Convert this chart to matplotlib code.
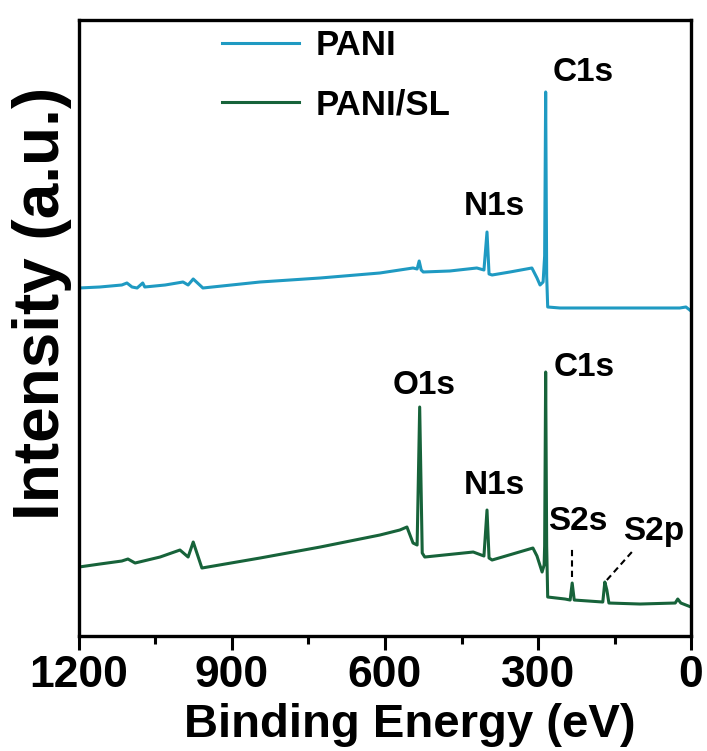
import matplotlib.pyplot as plt

plt.rcParams['font.family'] = ['Liberation Sans', 'DejaVu Sans']
plt.rcParams['font.weight'] = 'bold'
plt.rcParams['axes.labelweight'] = 'bold'

# binding energy (eV) and intensity (a.u.)
pani_e = [1200, 1159, 1116, 1106, 1096, 1086, 1075, 1071, 1031, 996, 986, 976, 957,
          845, 727, 610, 545, 537, 533, 529, 525, 473, 420, 406, 400, 396, 390,
          355, 312, 302, 296, 290, 287, 285, 283, 281, 257, 139, 22, 10, 0]
pani_i = [348, 349, 351, 353, 349, 348, 353, 349, 351, 354, 351, 357, 348,
          354, 358, 363, 368, 367, 375, 366, 364, 365, 368, 366, 404, 362, 361,
          364, 368, 358, 351, 354, 380, 544, 360, 329, 328, 328, 328, 329, 325]

sl_e = [1200, 1159, 1116, 1104, 1090, 1041, 1002, 986, 976, 959, 845, 727, 610,
        571, 557, 545, 537, 532, 527, 522, 427, 406, 400, 396, 390, 310, 302,
        292, 288, 287, 285, 283, 281, 247, 237, 233, 229, 173, 169, 165, 161,
        100, 31, 26, 20, 0]
sl_i = [69, 72, 75, 77, 73, 79, 86, 79, 94, 68, 78, 89, 101,
        106, 109, 93, 91, 229, 83, 79, 84, 80, 126, 78, 76, 88, 80,
        64, 71, 90, 264, 90, 39, 37, 36, 53, 36, 34, 54, 46, 33,
        32, 33, 37, 33, 29]

labels = ['PANI', 'PANI/SL']
colors = ['#1f9ac2', '#17633a']

fig = plt.figure(figsize=(7.07, 7.51), dpi=100)
ax = fig.add_axes([0.1117, 0.1531, 0.8657, 0.8203])

ax.plot(pani_e, pani_i, color=colors[0], lw=2.2, label=labels[0])
ax.plot(sl_e, sl_i, color=colors[1], lw=2.2, label=labels[1])

# peak labels
fs = 24
ax.text(212, 563, 'C1s', fontsize=fs, ha='center', va='center')
ax.text(386, 429, 'N1s', fontsize=fs, ha='center', va='center')
ax.text(524, 251, 'O1s', fontsize=fs, ha='center', va='center')
ax.text(210, 269, 'C1s', fontsize=fs, ha='center', va='center')
ax.text(386, 151, 'N1s', fontsize=fs, ha='center', va='center')
ax.text(222, 115, 'S2s', fontsize=fs, ha='center', va='center')
ax.text(73, 105, 'S2p', fontsize=fs, ha='center', va='center')

# dashed pointers for the sulfur peaks
ax.plot([233, 233], [59, 88], 'k--', lw=1.5, dashes=(3, 2))
ax.plot([165, 116], [56, 84], 'k--', lw=1.5, dashes=(3, 2))

ax.set_xlim(1200, 0)
ax.set_ylim(0, 616)
ax.set_xticks([1200, 900, 600, 300, 0])
ax.set_xticks([1050, 750, 450, 150], minor=True)
ax.set_yticks([])
ax.tick_params(axis='x', which='major', direction='out', length=10, width=2.2,
               labelsize=32, pad=4)
ax.tick_params(axis='x', which='minor', direction='out', length=6, width=2.2)
for s in ax.spines.values():
    s.set_linewidth(2.4)

ax.set_xlabel('Binding Energy (eV)', fontsize=34, fontweight='bold')
ax.set_ylabel('Intensity (a.u.)', fontsize=46, fontweight='bold')
ax.xaxis.set_label_coords(0.541, -0.108)
ax.yaxis.set_label_coords(-0.012, 0.54)
ax.xaxis.label.set_va('top')

ax.legend(loc='upper left', bbox_to_anchor=(0.234, 0.985), frameon=False,
          fontsize=25, handlelength=2.2, handletextpad=0.5, labelspacing=0.75,
          borderpad=0, borderaxespad=0)

fig.savefig('out.png', dpi=100)
